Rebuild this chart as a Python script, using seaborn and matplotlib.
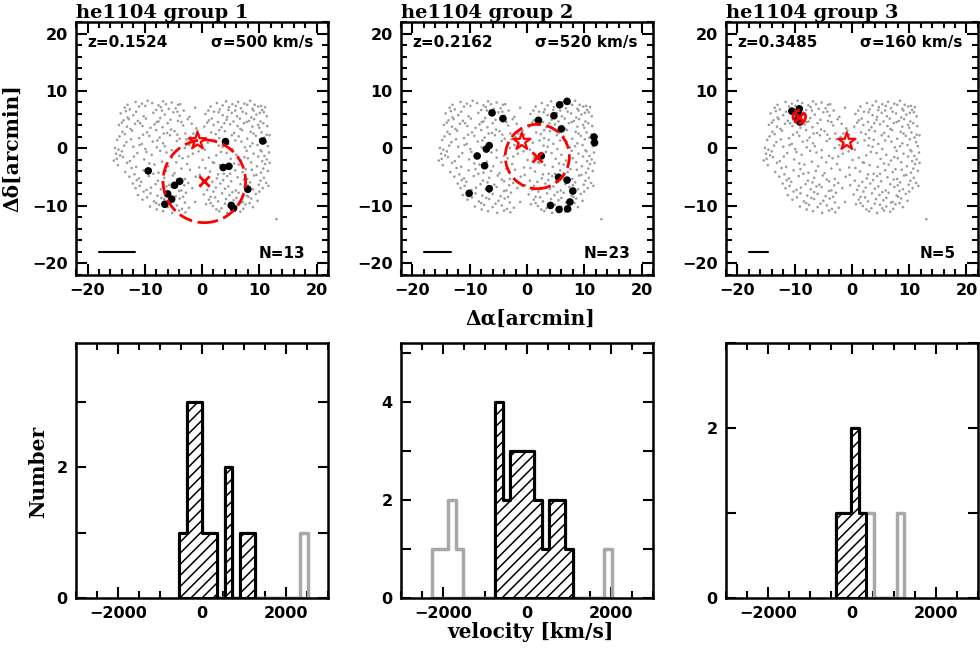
import numpy as np
import pandas as pd
import matplotlib
matplotlib.use('Agg')
import matplotlib.pyplot as plt
from matplotlib.patches import Circle
from matplotlib.ticker import MultipleLocator
import seaborn as sns

sns.set_style('ticks')
plt.rcParams['font.family'] = ['DejaVu Sans']
plt.rcParams['font.weight'] = 'bold'
plt.rcParams['hatch.linewidth'] = 1.1
for key in ['text.color', 'axes.labelcolor', 'xtick.color', 'ytick.color', 'axes.edgecolor']:
    plt.rcParams[key] = 'black'

# group info
titles = ['he1104 group 1', 'he1104 group 2', 'he1104 group 3']
redshifts = ['0.1524', '0.2162', '0.3485']
sigmas = [500, 520, 160]
n_members = [13, 23, 5]

# member galaxy positions (arcmin)
g1_x = [4.1, 10.6, -9.4, 3.7, 4.7, -3.9, -4.8, -6.0, -5.3, -6.5, 5.1, 5.5, 8.0]
g1_y = [1.2, 1.3, -3.9, -3.3, -3.1, -5.7, -6.4, -7.9, -8.8, -9.7, -9.9, -10.4, -7.1]
g2_x = [7.0, 5.7, -6.1, -4.2, 2.0, 4.7, 6.0, 11.7, 11.8, -6.6, -7.1, -8.7, 2.5,
        -7.4, 5.5, 7.0, -6.6, 8.0, -10.1, 7.5, 4.1, 5.6, 7.1]
g2_y = [8.2, 7.6, 6.2, 5.2, 4.9, 5.7, 3.4, 2.0, 1.0, 0.5, -0.1, -1.3, -1.3,
        -3.0, -5.0, -5.5, -7.0, -7.4, -7.8, -9.3, -9.9, -10.6, -10.5]
g3_x = [-10.5, -9.2, -9.4, -9.5, -9.1]
g3_y = [6.5, 6.9, 6.1, 5.0, 4.6]

# QSO position (star), group centre (x) and circle radius
star_x = [-0.8, -0.9, -0.9]
star_y = [1.3, 1.2, 1.2]
centre_x = [0.4, 1.8, -9.2]
centre_y = [-5.7, -1.4, 5.5]
radius = [7.2, 5.6, 1.1]
bar_len = [6.3, 4.7, 3.4]

# all observed galaxies in the field (arcmin)
field = [
    (-11.6, 8.1), (-10.5, 7.8), (-9.5, 8.3), (-8.7, 7.9), (-6.8, 8.2), (-6.3, 7.7), (-5.3, 8.0), (-4.2, 7.6),
    (2.6, 7.9), (4.2, 8.2), (5.3, 7.7), (6.3, 8.1), (7.4, 7.8), (8.4, 8.3), (9.2, 7.6), (10.3, 7.4),
    (-13.0, 7.6), (-9.9, 7.4), (-7.6, 7.5), (-3.8, 7.7), (3.6, 7.5), (5.9, 7.4), (7.9, 7.6), (9.8, 7.3),
    (-13.5, 7.1), (-12.6, 6.8), (-11.0, 7.3), (-8.0, 6.7), (-7.2, 7.2), (-5.8, 6.9), (-4.6, 7.0), (-3.2, 6.6),
    (-1.2, 7.1), (1.5, 7.3), (3.1, 6.8), (4.7, 7.2), (5.8, 6.6), (6.8, 7.0), (8.8, 6.9), (10.5, 6.7), (11.0, 7.2),
    (-13.3, 6.5), (-11.5, 6.4), (-7.0, 6.6), (-4.3, 6.4), (1.1, 6.6), (2.9, 6.3), (4.6, 6.7), (7.1, 6.4),
    (9.0, 6.6), (10.1, 6.2),
    (-14.2, 6.1), (-12.0, 5.8), (-8.5, 6.2), (-6.5, 5.9), (-5.0, 6.3), (-3.9, 5.7), (0.6, 6.0), (2.1, 6.4),
    (3.6, 5.8), (5.2, 6.2), (6.1, 5.6), (7.7, 6.1), (9.5, 5.9), (10.8, 6.3),
    (-13.0, 5.4), (-10.2, 5.6), (-7.3, 5.3), (-2.2, 5.5), (1.7, 5.2), (4.4, 5.5), (8.6, 5.4), (11.3, 5.6),
    (-13.7, 4.9), (-12.8, 5.1), (-11.2, 4.8), (-9.8, 5.2), (-7.6, 4.7), (-5.5, 5.0), (-4.2, 4.8), (-2.5, 5.1),
    (1.2, 4.9), (2.8, 4.6), (4.3, 5.0), (5.5, 4.7), (6.6, 5.2), (8.2, 4.8), (9.1, 5.1), (10.2, 4.7),
    (-14.0, 4.5), (-10.8, 4.4), (-7.9, 4.6), (-6.0, 4.4), (-3.6, 4.6), (0.9, 4.5), (3.9, 4.4), (7.8, 4.6), (10.7, 4.4),
    (-14.5, 4.1), (-13.1, 3.8), (-11.7, 4.3), (-10.4, 3.9), (-8.3, 4.2), (-6.9, 3.7), (-3.3, 4.0), (-1.8, 4.3),
    (0.4, 3.8), (2.0, 4.1), (3.4, 3.7), (4.9, 4.2), (6.2, 3.9), (7.3, 4.4), (8.8, 3.8), (9.8, 4.1), (11.4, 3.9),
    (-12.5, 3.4), (-9.0, 3.6), (-5.4, 3.3), (-1.0, 3.5), (3.0, 3.2), (6.7, 3.4), (10.0, 3.6),
    (-13.9, 2.9), (-12.2, 3.1), (-9.6, 2.8), (-8.0, 3.2), (-6.1, 2.7), (-4.8, 3.0), (-2.9, 2.6), (-0.8, 3.1),
    (1.6, 2.8), (4.0, 3.0), (5.6, 2.7), (7.0, 3.2), (8.5, 2.9), (10.4, 2.8),
    (-13.5, 2.5), (-10.3, 2.4), (-6.7, 2.6), (-4.3, 2.4), (-1.5, 2.6), (2.4, 2.5), (5.2, 2.3), (9.0, 2.6), (11.3, 2.4),
    (-14.4, 2.1), (-11.0, 1.8), (-9.2, 2.2), (-7.4, 1.9), (-5.6, 2.3), (-3.9, 1.7), (-2.0, 2.0), (-0.5, 2.4),
    (3.0, 1.8), (6.4, 2.1), (7.9, 1.7), (9.4, 2.2), (10.9, 1.9), (11.8, 2.3),
    (-14.8, 1.5), (-12.4, 1.6), (-7.8, 1.4), (-2.7, 1.6), (3.8, 1.5), (5.8, 1.4), (10.1, 1.6),
    (-13.2, 1.1), (-10.5, 0.8), (-8.6, 1.2), (-6.8, 0.9), (-4.4, 1.3), (-1.3, 0.7), (1.0, 1.0), (2.2, 1.4),
    (4.6, 0.8), (6.9, 1.2), (8.8, 0.9), (11.2, 1.1),
    (-13.6, 0.5), (-10.9, 0.6), (-6.5, 0.4), (-2.2, 0.6), (2.9, 0.5), (8.4, 0.4), (9.7, 0.6),
    (-15.2, 0.1), (-14.6, -0.2), (-12.0, 0.3), (-9.9, -0.1), (-7.9, 0.2), (-5.3, -0.3), (-3.0, 0.1), (0.5, -0.2),
    (3.6, 0.3), (5.3, -0.1), (7.5, 0.2), (10.2, -0.3), (11.5, 0.4),
    (-14.0, -0.5), (-9.7, -0.6), (-7.3, -0.4), (-0.6, -0.5), (3.3, -0.6), (7.8, -0.4), (10.4, -0.5),
    (-15.0, -0.9), (-14.3, -1.2), (-11.3, -0.8), (-8.8, -1.1), (-6.2, -0.7), (-4.0, -1.3), (-1.6, -0.9),
    (2.5, -1.2), (4.3, -0.8), (6.0, -1.1), (9.0, -0.9), (10.9, -1.3), (11.7, -0.7),
    (-13.8, -1.5), (-11.9, -1.4), (-5.3, -1.6), (-2.4, -1.4), (1.2, -1.6), (7.4, -1.5), (9.8, -1.4),
    (-15.4, -2.1), (-14.9, -1.8), (-12.6, -2.2), (-10.1, -1.9), (-7.0, -2.3), (-3.4, -1.7), (0.1, -2.0),
    (1.9, -2.4), (5.0, -1.8), (6.8, -2.1), (8.0, -1.7), (10.5, -2.2), (11.3, -1.9),
    (-13.1, -2.5), (-9.2, -2.6), (-4.5, -2.4), (2.1, -2.5), (5.6, -2.6), (8.6, -2.4), (11.8, -2.5),
    (-14.7, -2.9), (-11.5, -3.2), (-8.3, -2.8), (-5.9, -3.1), (-2.6, -2.7), (-0.5, -3.3), (3.1, -2.9),
    (4.5, -3.2), (6.4, -2.8), (9.6, -3.1), (11.0, -2.7),
    (-12.3, -3.4), (-9.0, -3.6), (-3.6, -3.5), (0.6, -3.4), (7.6, -3.6), (10.7, -3.5),
    (-13.4, -4.1), (-10.2, -3.8), (-7.6, -4.2), (-6.3, -3.9), (-4.8, -4.3), (-2.1, -3.7), (1.4, -4.0),
    (3.8, -4.4), (5.8, -3.8), (7.1, -4.1), (8.7, -3.7), (10.3, -4.2), (11.5, -3.9),
    (-11.8, -4.5), (-8.5, -4.4), (-0.4, -4.6), (2.8, -4.5), (4.9, -4.4), (9.5, -4.6),
    (-12.7, -4.9), (-11.0, -5.2), (-9.3, -4.8), (-6.6, -5.1), (-5.1, -4.7), (-3.0, -5.3), (-1.1, -4.9),
    (2.6, -5.2), (4.4, -4.8), (6.2, -5.0), (7.9, -5.3), (9.1, -4.7), (10.8, -5.1),
    (-11.4, -5.5), (-7.7, -5.6), (-4.4, -5.4), (0.5, -5.6), (3.7, -5.5), (7.3, -5.4), (10.2, -5.6),
    (-12.1, -6.1), (-10.6, -5.8), (-8.1, -6.2), (-6.9, -5.9), (-5.7, -6.3), (-4.0, -5.7), (-2.4, -6.0),
    (-0.3, -6.4), (1.8, -5.8), (3.2, -6.1), (5.1, -5.7), (6.7, -6.2), (8.4, -5.9), (9.9, -6.3), (11.2, -6.0),
    (-10.9, -6.5), (-6.2, -6.6), (-3.1, -6.4), (1.2, -6.5), (4.6, -6.6), (8.0, -6.4), (11.6, -6.5),
    (-11.6, -6.9), (-9.7, -7.2), (-8.9, -6.8), (-7.2, -7.1), (-5.3, -6.7), (-3.6, -7.3), (-1.7, -6.9),
    (0.9, -7.2), (2.4, -6.8), (4.0, -7.0), (5.9, -7.3), (7.4, -6.7), (8.9, -7.1), (10.6, -6.9),
    (-10.2, -7.5), (-6.6, -7.6), (-4.0, -7.4), (2.0, -7.5), (5.3, -7.6), (8.3, -7.4), (10.0, -7.5),
    (-11.2, -8.1), (-9.0, -7.8), (-7.8, -8.2), (-6.0, -7.9), (-4.6, -8.3), (-2.8, -7.7), (0.3, -8.0),
    (1.5, -8.4), (3.5, -7.8), (4.8, -8.1), (6.4, -7.7), (7.8, -8.2), (9.4, -7.9),
    (-9.6, -8.5), (-7.1, -8.6), (-3.3, -8.4), (2.3, -8.5), (6.0, -8.6), (8.1, -8.4),
    (-10.4, -8.9), (-8.4, -9.2), (-6.6, -8.8), (-5.0, -9.1), (-3.9, -8.7), (-1.2, -9.3), (1.2, -8.9),
    (2.8, -9.2), (4.2, -8.8), (5.5, -9.0), (7.1, -9.3), (8.6, -8.7), (9.7, -9.1),
    (-8.0, -9.5), (-5.5, -9.6), (-3.0, -9.4), (1.5, -9.5), (4.0, -9.6), (6.8, -9.4), (8.3, -9.5),
    (-9.1, -10.1), (-7.5, -9.8), (-6.0, -10.2), (-4.4, -9.9), (-2.3, -10.3), (0.7, -9.7), (1.9, -10.0),
    (3.4, -10.4), (4.9, -9.8), (6.0, -10.1), (7.6, -9.7), (8.9, -10.2),
    (-7.9, -10.6), (-3.5, -10.5), (2.5, -10.6), (5.3, -10.4), (7.2, -10.5),
    (-6.8, -10.9), (-5.2, -11.2), (-4.0, -10.8), (-2.9, -11.1), (3.0, -10.9), (4.4, -11.2), (5.6, -10.8),
    (6.7, -11.0), (13.0, -12.3),
]
field_df = pd.DataFrame(field, columns=['dra', 'ddec'])

# velocity histograms: first bin edge, bin width (km/s) and counts
g1_start, g1_width = -540, 180
g1_all = [1, 3, 3, 1, 1, 0, 2, 0, 1, 1, 0, 0, 0, 0, 0, 0, 1]
g1_mem = [1, 3, 3, 1, 1, 0, 2, 0, 1, 1, 0, 0, 0, 0, 0, 0, 0]
g2_start, g2_width = -2257, 186
g2_all = [1, 1, 2, 1, 0, 0, 0, 0, 4, 2, 3, 3, 3, 2, 1, 2, 2, 1, 0, 0, 0, 0, 1]
g2_mem = [0, 0, 0, 0, 0, 0, 0, 0, 4, 2, 3, 3, 3, 2, 1, 2, 2, 1, 0, 0, 0, 0, 0]
g3_start, g3_width = -378, 181
g3_all = [1, 1, 2, 1, 1, 0, 0, 0, 1]
g3_mem = [1, 1, 2, 1, 0, 0, 0, 0, 0]
hist_ymax = [3.9, 5.2, 3.0]

members = [(g1_x, g1_y), (g2_x, g2_y), (g3_x, g3_y)]
hists = [(g1_start, g1_width, g1_all, g1_mem),
         (g2_start, g2_width, g2_all, g2_mem),
         (g3_start, g3_width, g3_all, g3_mem)]

fig = plt.figure(figsize=(9.8, 6.53), dpi=100)
lefts = [0.0776, 0.4092, 0.7408]
W = 0.2571
serif = {'family': 'DejaVu Serif', 'weight': 'bold'}

for i in range(3):
    # ---- sky positions ----
    ax = fig.add_axes([lefts[i], 0.5789, W, 0.3874])
    sns.scatterplot(data=field_df, x='dra', y='ddec', s=3.5, color='#9c9c9c',
                    edgecolor='none', ax=ax, zorder=1)
    mx, my = members[i]
    sns.scatterplot(x=mx, y=my, s=30, color='black', edgecolor='none', ax=ax, zorder=3)
    ax.add_patch(Circle((centre_x[i], centre_y[i]), radius[i], fill=False,
                        edgecolor='red', lw=2, linestyle=(0, (5, 2)), zorder=4))
    sns.scatterplot(x=[centre_x[i]], y=[centre_y[i]], marker='x', s=55, color='red',
                    linewidth=2, ax=ax, zorder=5)
    sns.scatterplot(x=[star_x[i]], y=[star_y[i]], marker='*', s=170, facecolor='none',
                    edgecolor='red', linewidth=1.6, ax=ax, zorder=5)
    ax.plot([-18, -18 + bar_len[i]], [-18, -18], color='black', lw=1.5)
    ax.set_xlim(-22, 22)
    ax.set_ylim(-22, 22)
    ax.xaxis.set_major_locator(MultipleLocator(10))
    ax.xaxis.set_minor_locator(MultipleLocator(2))
    ax.yaxis.set_major_locator(MultipleLocator(10))
    ax.yaxis.set_minor_locator(MultipleLocator(2))
    ax.tick_params(which='both', direction='in', top=True, right=True, width=1.5,
                   labelsize=11.5, pad=6)
    ax.tick_params(which='major', length=8)
    ax.tick_params(which='minor', length=4)
    ax.set_xlabel('')
    ax.set_ylabel('')
    for sp in ax.spines.values():
        sp.set_linewidth(1.8)
    ax.text(0.045, 0.92, 'z=' + redshifts[i], transform=ax.transAxes, fontsize=11,
            fontweight='bold', ha='left', va='center')
    ax.text(0.94, 0.92, '\u03c3=%d km/s' % sigmas[i], transform=ax.transAxes, fontsize=11,
            fontweight='bold', ha='right', va='center')
    ax.text(0.91, 0.083, 'N=%d' % n_members[i], transform=ax.transAxes, fontsize=11,
            fontweight='bold', ha='right', va='center')
    ax.set_title(titles[i], loc='left', fontdict=serif, fontsize=14, pad=2)

    # ---- velocity histograms ----
    hx = fig.add_axes([lefts[i], 0.0842, W, 0.3905])
    start, width, all_c, mem_c = hists[i]
    edges = start + width * np.arange(len(all_c) + 1)
    centres = edges[:-1] + width / 2
    all_df = pd.DataFrame({'v': centres, 'n': all_c})
    sns.histplot(data=all_df, x='v', weights='n', bins=list(edges), element='step',
                 fill=True, color='#a8a8a8', facecolor='none', edgecolor='#a8a8a8',
                 linewidth=2.5, alpha=1, ax=hx, zorder=2)
    nz = np.nonzero(mem_c)[0]
    lo, hi = nz[0], nz[-1] + 1
    mem_df = pd.DataFrame({'v': centres[lo:hi], 'n': mem_c[lo:hi]})
    sns.histplot(data=mem_df, x='v', weights='n', bins=list(edges[lo:hi + 1]),
                 element='step', fill=True, color='black', facecolor='white',
                 edgecolor='black', hatch='///', linewidth=2.2, alpha=1, ax=hx, zorder=3)
    hx.set_xlim(-3000, 3000)
    hx.set_ylim(0, hist_ymax[i])
    hx.xaxis.set_major_locator(MultipleLocator(2000))
    hx.xaxis.set_minor_locator(MultipleLocator(500))
    hx.yaxis.set_major_locator(MultipleLocator(2))
    hx.yaxis.set_minor_locator(MultipleLocator(1))
    hx.tick_params(which='both', direction='in', top=True, right=True, width=1.5,
                   labelsize=11.5, pad=6)
    hx.tick_params(axis='x', which='major', length=8)
    hx.tick_params(axis='x', which='minor', length=5)
    hx.tick_params(axis='y', which='both', length=7)
    hx.set_xlabel('')
    hx.set_ylabel('')
    for sp in hx.spines.values():
        sp.set_linewidth(1.8)
        sp.set_zorder(5)

fig.text(0.012, 0.773, '\u0394\u03b4[arcmin]', rotation=90, ha='center', va='center',
         fontdict=serif, fontsize=14.5)
fig.text(0.541, 0.511, '\u0394\u03b1[arcmin]', ha='center', va='center',
         fontdict=serif, fontsize=14.5)
fig.text(0.039, 0.277, 'Number', rotation=90, ha='center', va='center',
         fontdict=serif, fontsize=14.5)
fig.text(0.541, 0.032, 'velocity [km/s]', ha='center', va='center',
         fontdict=serif, fontsize=14.5)

fig.savefig('out.png', dpi=100)
